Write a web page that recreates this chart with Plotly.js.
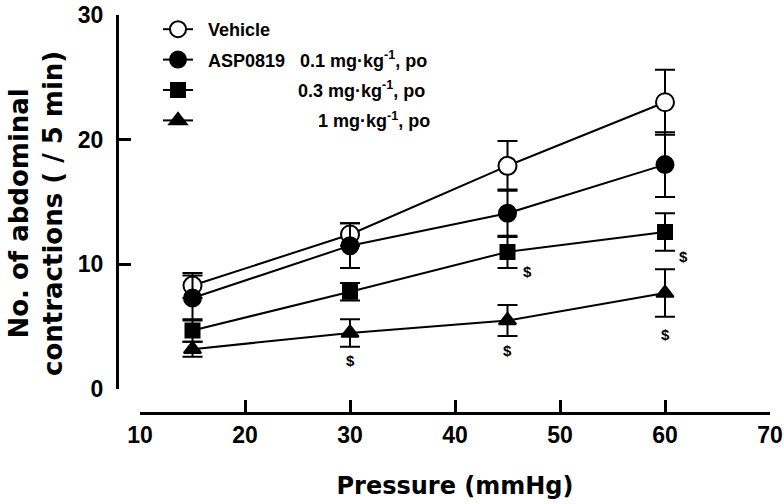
<!DOCTYPE html>
<html>
<head>
<meta charset="utf-8">
<script src="https://cdn.plot.ly/plotly-3.0.1.min.js"></script>
<style>html,body{margin:0;padding:0;background:#fff;}</style>
</head>
<body>
<div id="chart" style="width:784px;height:504px;"></div>
<script>
const pressure = [15, 30, 45, 60];

const vehicleMean = [8.3, 12.4, 17.9, 23.0];
const vehicleErr  = [1.0, 0.9, 2.0, 2.6];

const asp01Mean = [7.3, 11.5, 14.1, 18.0];
const asp01Err  = [1.8, 1.8, 1.9, 2.6];

const asp03Mean = [4.7, 7.8, 11.0, 12.6];
const asp03Err  = [0.9, 0.7, 1.3, 1.5];

const asp1Mean = [3.2, 4.5, 5.5, 7.7];
const asp1Err  = [0.6, 1.1, 1.25, 1.9];

const NB = '\u00A0';
const seriesNames = [
  NB + NB + 'Vehicle',
  NB + NB + 'ASP0819' + NB + NB + NB + '0.1 mg·kg<sup>-1</sup>, po',
  NB.repeat(20) + '0.3 mg·kg<sup>-1</sup>, po',
  NB.repeat(24) + '1 mg·kg<sup>-1</sup>, po'
];

// significance marks ($)
const dollarX = [46.9, 61.8, 30, 45, 60];
const dollarY = [9.4, 10.6, 2.3, 3.1, 4.4];
const dollarText = ['$', '$', '$', '$', '$'];

const xTicks = [10, 20, 30, 40, 50, 60, 70];
const yTicks = [0, 10, 20, 30];

const xTitle = 'Pressure (mmHg)';
const yTitle = 'No. of abdominal<br>contractions ( / 5 min)';

const FONT = 'Liberation Sans, Arial, Helvetica, sans-serif';
const TFONT = 'DejaVu Sans, Verdana, sans-serif';

function mk(name, y, err, symbol, size, fill, group) {
  return {
    x: pressure, y: y, name: name, type: 'scatter', mode: 'lines+markers',
    legendgroup: group,
    line: {color: '#000', width: 2},
    marker: {symbol: symbol, size: size, color: fill, line: {color: '#000', width: 2}},
    error_y: {type: 'data', array: err, visible: true, color: '#000', thickness: 2, width: 10},
    cliponaxis: false
  };
}

const traces = [
  mk(seriesNames[0], vehicleMean, vehicleErr, 'circle', 18, '#fff', 'a'),
  mk(seriesNames[1], asp01Mean, asp01Err, 'circle', 17, '#000', 'b'),
  mk(seriesNames[2], asp03Mean, asp03Err, 'square', 14, '#000', 'c'),
  mk(seriesNames[3], asp1Mean, asp1Err, 'triangle-up', 15, '#000', 'd')
];

const annotations = dollarX.map((x, i) => ({
  x: x, y: dollarY[i], xref: 'x', yref: 'y', text: dollarText[i], showarrow: false,
  font: {family: FONT, size: 15, color: '#000', weight: 'bold'}
}));

annotations.push({
  xref: 'paper', yref: 'paper', x: -0.124, y: 0.5, xanchor: 'center', yanchor: 'middle',
  textangle: -90, text: yTitle, showarrow: false,
  font: {family: TFONT, size: 26, color: '#000', weight: 'bold'}
});

const layout = {
  width: 784, height: 504,
  margin: {l: 117, r: 14, t: 14, b: 91},
  paper_bgcolor: '#fff', plot_bgcolor: '#fff',
  font: {family: FONT, color: '#000', weight: 'bold'},
  showlegend: true,
  legend: {
    xref: 'paper', yref: 'paper', x: 41 / 653, y: 402 / 399,
    xanchor: 'left', yanchor: 'top',
    font: {family: FONT, size: 18, color: '#000', weight: 'bold'},
    traceorder: 'grouped', tracegroupgap: 4,
    bgcolor: 'rgba(0,0,0,0)', borderwidth: 0, itemwidth: 30
  },
  xaxis: {
    range: [10, 70], domain: [23 / 653, 1], anchor: 'free', position: 0,
    tickvals: xTicks, ticktext: xTicks.map(String),
    ticks: 'inside', ticklen: 12, tickwidth: 3, tickcolor: '#000',
    showline: true, linewidth: 3, linecolor: '#000',
    showgrid: false, zeroline: false, ticklabeloverflow: 'allow',
    tickfont: {family: FONT, size: 23, color: '#000', weight: 'bold'},
    title: {text: xTitle, font: {family: TFONT, size: 24, color: '#000', weight: 'bold'}, standoff: 30}
  },
  yaxis: {
    range: [0, 30], domain: [24 / 399, 1], anchor: 'free', position: 0,
    tickvals: yTicks, ticktext: yTicks.map(String),
    ticks: 'inside', ticklen: 12, tickwidth: 3, tickcolor: '#000',
    showline: true, linewidth: 3, linecolor: '#000',
    showgrid: false, zeroline: false, ticklabeloverflow: 'allow',
    ticklabelstandoff: 8,
    tickfont: {family: FONT, size: 23, color: '#000', weight: 'bold'}
  },
  annotations: annotations
};

Plotly.newPlot('chart', traces, layout, {displayModeBar: false, staticPlot: true});
</script>
</body>
</html>
